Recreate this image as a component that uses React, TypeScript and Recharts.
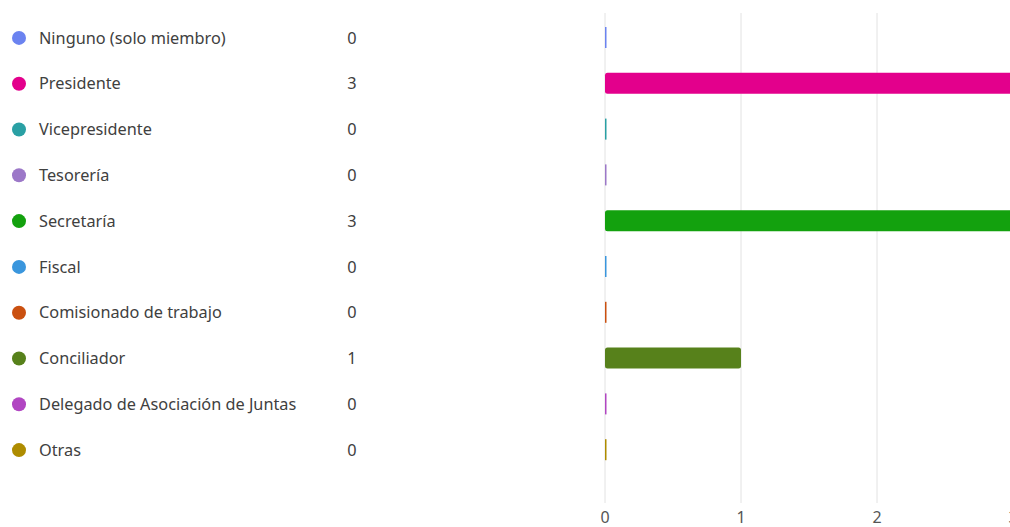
import React from "react";
import { BarChart, Bar, XAxis, YAxis, CartesianGrid, Cell } from "recharts";

const categories = [
  "Ninguno (solo miembro)",
  "Presidente",
  "Vicepresidente",
  "Tesorería",
  "Secretaría",
  "Fiscal",
  "Comisionado de trabajo",
  "Conciliador",
  "Delegado de Asociación de Juntas",
  "Otras",
];
const counts = [0, 3, 0, 0, 3, 0, 0, 1, 0, 0];
const colors = [
  "#6b83f0",
  "#e3008c",
  "#2aa0a4",
  "#9c78c8",
  "#13a10e",
  "#3a96dd",
  "#ca5010",
  "#57811b",
  "#b146c2",
  "#ae8c00",
];
const xTicks = [0, 1, 2, 3];

const data = categories.map((name, i) => ({ name, value: counts[i], color: colors[i] }));

const FONT = "'Noto Sans', 'Open Sans', sans-serif";

// legend row drawn as the category tick: dot, label, count
const LegendTick = (props: any) => {
  const { y, payload } = props;
  const i = payload.index;
  return (
    <g>
      <circle cx={19} cy={y} r={7} fill={colors[i]} />
      <text x={39} y={y} dy="0.35em" fontSize={16.3} fill="#404040" fontFamily={FONT}>
        {categories[i]}
      </text>
      <text x={352} y={y} dy="0.35em" textAnchor="middle" fontSize={16.3} fill="#404040" fontFamily={FONT}>
        {counts[i]}
      </text>
    </g>
  );
};

const BarShape = (props: any) => {
  const { x, y, width, height, fill } = props;
  const w = Math.max(width || 0, 1.5);
  return <rect x={x} y={y} width={w} height={height} rx={w > 6 ? 2.5 : 0} fill={fill} />;
};

export default function App() {
  return (
    <div style={{ position: "fixed", left: 0, top: 0, width: 1010, height: 527, overflow: "hidden", background: "#fff" }}>
      <BarChart
        width={1040}
        height={527}
        data={data}
        layout="vertical"
        margin={{ top: 13, right: 27, bottom: 0, left: 0 }}
        barSize={21}
      >
        <CartesianGrid horizontal={false} stroke="#e2e2e2" />
        <XAxis
          type="number"
          domain={[0, 3]}
          ticks={xTicks}
          axisLine={false}
          tickLine={false}
          height={24}
          tickMargin={3}
          tick={{ fontSize: 16, fill: "#555", fontFamily: FONT }}
        />
        <YAxis
          type="category"
          dataKey="name"
          width={605}
          axisLine={false}
          tickLine={false}
          padding={{ top: 2, bottom: 30 }}
          tick={(p: any) => <LegendTick {...p} />}
          interval={0}
        />
        <Bar dataKey="value" isAnimationActive={false} shape={(p: any) => <BarShape {...p} />}>
          {data.map((d) => (
            <Cell key={d.name} fill={d.color} />
          ))}
        </Bar>
      </BarChart>
    </div>
  );
}
